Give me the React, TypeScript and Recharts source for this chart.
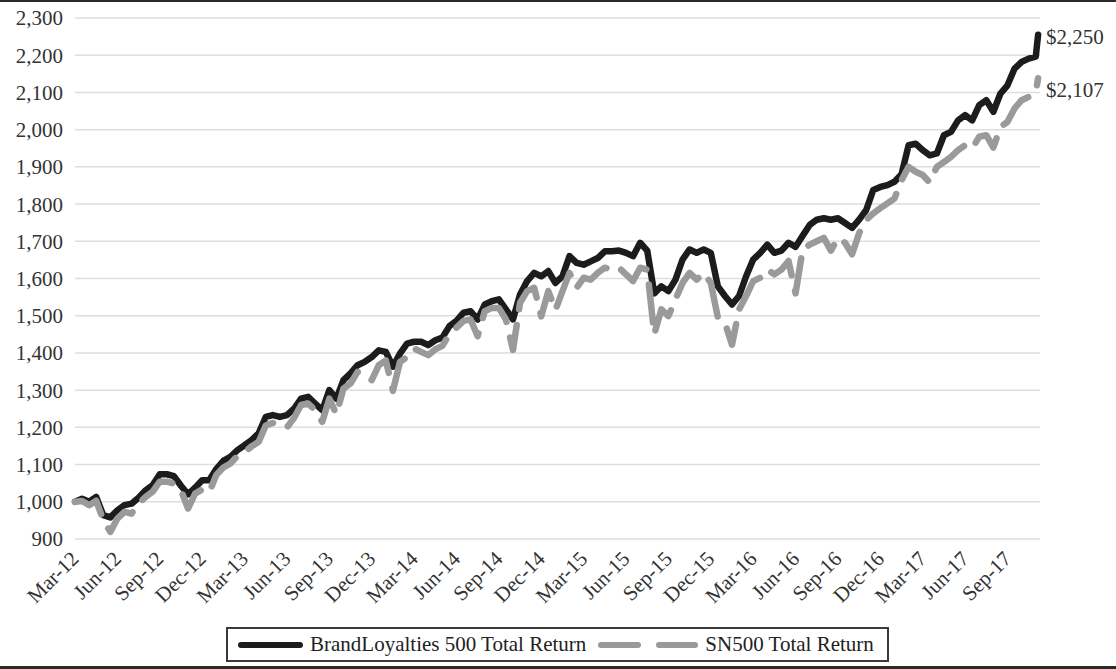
import React from 'react';
import { LineChart, Line, XAxis, YAxis, CartesianGrid, Legend, ReferenceDot } from 'recharts';

const FONT = '"Liberation Serif", "Times New Roman", serif';
const FS = 21;

const seriesNames = ['BrandLoyalties 500 Total Return', 'SN500 Total Return'];
const seriesColors = ['#1c1c1c', '#9a9a9a'];

const dates = [
  '2012-03-01','2012-03-16','2012-04-01','2012-04-16','2012-05-01','2012-05-16','2012-06-01','2012-06-16','2012-07-01','2012-07-16','2012-08-01','2012-08-16','2012-09-01','2012-09-16','2012-10-01','2012-10-16','2012-11-01','2012-11-16','2012-12-01','2012-12-16',
  '2013-01-01','2013-01-16','2013-02-01','2013-02-16','2013-03-01','2013-03-16','2013-04-01','2013-04-16','2013-05-01','2013-05-16','2013-06-01','2013-06-16','2013-07-01','2013-07-16','2013-08-01','2013-08-16','2013-09-01','2013-09-16','2013-10-01','2013-10-16','2013-11-01','2013-11-16','2013-12-01','2013-12-16',
  '2014-01-01','2014-01-16','2014-02-01','2014-02-16','2014-03-01','2014-03-16','2014-04-01','2014-04-16','2014-05-01','2014-05-16','2014-06-01','2014-06-16','2014-07-01','2014-07-16','2014-08-01','2014-08-16','2014-09-01','2014-09-16','2014-10-01','2014-10-16','2014-11-01','2014-11-16','2014-12-01','2014-12-16',
  '2015-01-01','2015-01-16','2015-02-01','2015-02-16','2015-03-01','2015-03-16','2015-04-01','2015-04-16','2015-05-01','2015-05-16','2015-06-01','2015-06-16','2015-07-01','2015-07-16','2015-08-01','2015-08-16','2015-09-01','2015-09-16','2015-10-01','2015-10-16','2015-11-01','2015-11-16','2015-12-01','2015-12-16',
  '2016-01-01','2016-01-16','2016-02-01','2016-02-16','2016-03-01','2016-03-16','2016-04-01','2016-04-16','2016-05-01','2016-05-16','2016-06-01','2016-06-16','2016-07-01','2016-07-16','2016-08-01','2016-08-16','2016-09-01','2016-09-16','2016-10-01','2016-10-16','2016-11-01','2016-11-16','2016-12-01','2016-12-16',
  '2017-01-01','2017-01-16','2017-02-01','2017-02-16','2017-03-01','2017-03-16','2017-04-01','2017-04-16','2017-05-01','2017-05-16','2017-06-01','2017-06-16','2017-07-01','2017-07-16','2017-08-01','2017-08-16','2017-09-01','2017-09-16','2017-10-01','2017-10-16','2017-11-01','2017-11-06',
];

const brandLoyalties = [
  1000, 1008, 1000, 1013, 964, 958, 977, 991, 995, 1011, 1031, 1045, 1074, 1074, 1069, 1043, 1020, 1038, 1058, 1058,
  1088, 1110, 1121, 1139, 1152, 1166, 1184, 1228, 1233, 1228, 1233, 1250, 1277, 1282, 1264, 1246, 1300, 1277, 1327, 1345, 1367, 1376, 1389, 1407,
  1403, 1363, 1398, 1425, 1430, 1430, 1421, 1434, 1441, 1472, 1486, 1508, 1512, 1490, 1530, 1539, 1544, 1517, 1490, 1557, 1593, 1615, 1606, 1620,
  1588, 1606, 1660, 1642, 1637, 1646, 1655, 1673, 1673, 1675, 1669, 1660, 1696, 1675, 1560, 1579, 1566, 1597, 1651, 1678, 1669, 1678, 1669, 1579,
  1553, 1530, 1553, 1606, 1651, 1669, 1691, 1669, 1675, 1696, 1685, 1715, 1744, 1758, 1762, 1758, 1762, 1749, 1736, 1758, 1784, 1838, 1846, 1851,
  1860, 1880, 1958, 1962, 1945, 1931, 1936, 1985, 1994, 2025, 2039, 2025, 2066, 2079, 2048, 2097, 2119, 2164, 2182, 2191, 2196, 2255,
];

const sn500 = [
  1000, 1002, 991, 1003, 951, 919, 955, 973, 968, 995, 1013, 1027, 1054, 1054, 1049, 1031, 982, 1022, 1033, 1025,
  1072, 1092, 1103, 1123, 1134, 1149, 1161, 1205, 1212, 1205, 1200, 1225, 1260, 1264, 1246, 1215, 1277, 1235, 1304, 1318, 1349, 1340, 1327, 1367,
  1380, 1298, 1376, 1389, 1412, 1403, 1394, 1410, 1419, 1450, 1468, 1486, 1490, 1445, 1512, 1521, 1521, 1490, 1408, 1535, 1566, 1575, 1498, 1566,
  1515, 1566, 1615, 1575, 1602, 1597, 1615, 1629, 1624, 1629, 1611, 1593, 1629, 1624, 1450, 1517, 1499, 1544, 1588, 1615, 1597, 1615, 1588, 1495,
  1481, 1422, 1517, 1553, 1593, 1602, 1624, 1611, 1624, 1647, 1560, 1678, 1691, 1700, 1709, 1675, 1709, 1696, 1665, 1722, 1758, 1775, 1789, 1802,
  1815, 1864, 1900, 1887, 1878, 1858, 1900, 1913, 1927, 1945, 1958, 1949, 1981, 1985, 1952, 2007, 2021, 2057, 2079, 2088, 2101, 2138,
];

const xTickLabels = ['Mar-12','Jun-12','Sep-12','Dec-12','Mar-13','Jun-13','Sep-13','Dec-13','Mar-14','Jun-14','Sep-14','Dec-14','Mar-15','Jun-15','Sep-15','Dec-15','Mar-16','Jun-16','Sep-16','Dec-16','Mar-17','Jun-17','Sep-17'];
const xTickMonths = [0, 3, 6, 9, 12, 15, 18, 21, 24, 27, 30, 33, 36, 39, 42, 45, 48, 51, 54, 57, 60, 63, 66];
const yTicks = [900, 1000, 1100, 1200, 1300, 1400, 1500, 1600, 1700, 1800, 1900, 2000, 2100, 2200, 2300];
const endValues = [2250, 2107];
const endLabels = ['$2,250', '$2,107'];

const monthOffset = (s: string) => {
  const [y, mo, d] = s.split('-').map(Number);
  return (y - 2012) * 12 + (mo - 3) + (d - 1) / 30;
};

const data = dates.map((d, i) => ({
  date: d,
  m: monthOffset(d),
  bl: brandLoyalties[i],
  sn: sn500[i],
}));
const lastM = data[data.length - 1].m;

const XTick = (props: any) => {
  const { x, y, payload } = props;
  const idx = xTickMonths.indexOf(payload.value);
  const tx = x + 5;
  const ty = y + 13;
  return (
    <text x={tx} y={ty} textAnchor="end" transform={`rotate(-45, ${tx}, ${ty})`} fontFamily={FONT} fontSize={FS} fill="#333">
      {xTickLabels[idx]}
    </text>
  );
};

const LegendBox = () => (
  <div
    style={{
      width: 663,
      height: 35,
      boxSizing: 'border-box',
      border: '2px solid #3a3a3a',
      display: 'flex',
      alignItems: 'center',
      fontFamily: FONT,
      fontSize: FS,
      color: '#222',
      background: '#fff',
      whiteSpace: 'nowrap',
    }}
  >
    <svg width={65} height={10} style={{ marginLeft: 10 }}>
      <line x1={3} y1={5} x2={62} y2={5} stroke={seriesColors[0]} strokeWidth={6} strokeLinecap="round" />
    </svg>
    <span style={{ marginLeft: 7 }}>{seriesNames[0]}</span>
    <svg width={100} height={10} style={{ marginLeft: 12 }}>
      <line x1={3} y1={5} x2={40} y2={5} stroke={seriesColors[1]} strokeWidth={6} strokeLinecap="round" />
      <line x1={61} y1={5} x2={97} y2={5} stroke={seriesColors[1]} strokeWidth={6} strokeLinecap="round" />
    </svg>
    <span style={{ marginLeft: 7 }}>{seriesNames[1]}</span>
  </div>
);

export default function App() {
  return (
    <div style={{ position: 'absolute', left: 0, top: 0, width: 1116, height: 669, background: '#fff', overflow: 'hidden' }}>
      <div style={{ position: 'absolute', left: 0, top: 0, width: 1116, height: 2, background: '#2a2a2a' }} />
      <div style={{ position: 'absolute', left: 0, top: 666, width: 1116, height: 3, background: '#2a2a2a' }} />
      <LineChart width={1116} height={669} data={data} margin={{ top: 18, right: 76, bottom: 40, left: 10 }}>
        <CartesianGrid vertical={false} stroke="#dedede" strokeWidth={1.5} />
        <XAxis
          type="number"
          dataKey="m"
          domain={[0, 68.3]}
          ticks={xTickMonths}
          interval={0}
          axisLine={false}
          tickLine={false}
          height={90}
          tick={<XTick />}
        />
        <YAxis
          domain={[900, 2300]}
          ticks={yTicks}
          interval={0}
          axisLine={false}
          tickLine={false}
          width={65}
          tickMargin={6}
          tickFormatter={(v: number) => v.toLocaleString('en-US')}
          tick={{ fontFamily: FONT, fontSize: FS, fill: '#333' }}
        />
        <Line
          type="linear"
          dataKey="bl"
          name={seriesNames[0]}
          stroke={seriesColors[0]}
          strokeWidth={6.5}
          strokeLinejoin="round"
          strokeLinecap="round"
          dot={false}
          isAnimationActive={false}
        />
        <Line
          type="linear"
          dataKey="sn"
          name={seriesNames[1]}
          stroke={seriesColors[1]}
          strokeWidth={6.5}
          strokeDasharray="38 16"
          strokeLinejoin="round"
          strokeLinecap="round"
          dot={false}
          isAnimationActive={false}
        />
        {endValues.map((v, i) => (
          <ReferenceDot
            key={i}
            x={lastM}
            y={v}
            r={0}
            fill="none"
            stroke="none"
            label={{ value: endLabels[i], position: 'right', offset: 8, fontFamily: FONT, fontSize: FS, fill: '#333' }}
          />
        ))}
        <Legend
          layout="vertical"
          align="center"
          verticalAlign="middle"
          wrapperStyle={{ left: 226, top: 627, width: 663, height: 35 }}
          content={() => <LegendBox />}
        />
      </LineChart>
    </div>
  );
}
